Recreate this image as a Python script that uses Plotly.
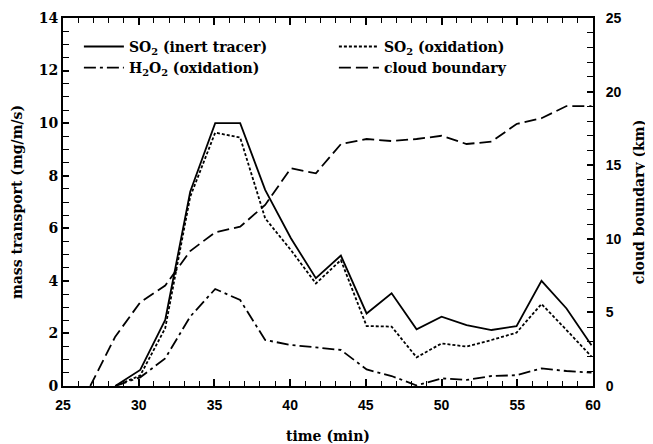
import plotly.graph_objects as go

# time axis (min)
time_cloud = [26.8, 28.45, 30.1, 31.75, 33.4, 35.05, 36.7, 38.35, 40.05, 41.7,
              43.35, 45.05, 46.7, 48.35, 50.0, 51.65, 53.3, 54.95, 56.6, 58.25, 59.9]
time_mass = time_cloud[1:]

so2_inert = [0.0, 0.61, 2.51, 7.39, 10.0, 10.0, 7.46, 5.62, 4.1, 4.96,
             2.76, 3.53, 2.16, 2.64, 2.32, 2.13, 2.28, 4.0, 2.95, 1.55]
so2_oxid = [0.0, 0.4, 2.2, 7.2, 9.64, 9.45, 6.38, 5.17, 3.9, 4.79,
            2.28, 2.26, 1.09, 1.62, 1.5, 1.75, 2.03, 3.12, 2.13, 1.12]
h2o2_oxid = [0.0, 0.33, 1.05, 2.64, 3.69, 3.27, 1.75, 1.56, 1.47, 1.37,
             0.63, 0.38, 0.02, 0.29, 0.23, 0.38, 0.41, 0.67, 0.57, 0.51]
cloud_km = [0.0, 3.35, 5.69, 6.82, 9.17, 10.44, 10.82, 12.3, 14.79, 14.45,
            16.43, 16.78, 16.64, 16.78, 17.0, 16.44, 16.6, 17.8, 18.19, 19.02, 19.02]

x_ticks = [25, 30, 35, 40, 45, 50, 55, 60]
y_ticks = [0, 2, 4, 6, 8, 10, 12, 14]
y2_ticks = [0, 5, 10, 15, 20, 25]

serif = "DejaVu Serif"
sans = "Liberation Sans"
lw = 1.8

fig = go.Figure()
fig.add_trace(go.Scatter(x=time_mass, y=so2_inert, mode="lines",
                         name="SO<sub>2</sub> (inert tracer)",
                         line=dict(color="black", width=lw, dash="solid")))
fig.add_trace(go.Scatter(x=time_mass, y=so2_oxid, mode="lines",
                         name="SO<sub>2</sub> (oxidation)",
                         line=dict(color="black", width=lw, dash="3px,2px")))
fig.add_trace(go.Scatter(x=time_mass, y=h2o2_oxid, mode="lines",
                         name="H<sub>2</sub>O<sub>2</sub> (oxidation)",
                         line=dict(color="black", width=lw, dash="12px,4px,3px,4px")))
fig.add_trace(go.Scatter(x=time_cloud, y=cloud_km, mode="lines", yaxis="y2",
                         name="cloud boundary",
                         line=dict(color="black", width=lw, dash="12px,5px")))

fig.update_layout(
    width=645, height=436,
    margin=dict(l=55, r=60, t=10, b=58),
    paper_bgcolor="white", plot_bgcolor="white",
    font=dict(family=serif, color="black", size=13),
    showlegend=True,
    legend=dict(orientation="h", x=0.03, y=0.965, xanchor="left", yanchor="top",
                entrywidth=200, entrywidthmode="pixels",
                font=dict(family=serif, size=14, color="black", weight="bold"),
                bgcolor="rgba(0,0,0,0)", tracegroupgap=0, itemwidth=40),
    xaxis=dict(range=[25, 60], tickvals=x_ticks, ticktext=[str(v) for v in x_ticks],
               ticks="inside", ticklen=7, tickwidth=1.5, tickcolor="black",
               minor=dict(dtick=1, ticks="inside", ticklen=5, tickwidth=1.2, tickcolor="black"),
               showline=True, linewidth=2, linecolor="black", mirror="ticks",
               showgrid=False, zeroline=False, automargin=False, ticklabelstandoff=5,
               tickfont=dict(family=sans, size=14, weight="bold"),
               title=dict(text="time (min)", font=dict(family=serif, size=14, weight="bold"),
                          standoff=22)),
    yaxis=dict(range=[0, 14], tickvals=y_ticks, ticktext=[str(v) for v in y_ticks],
               ticks="inside", ticklen=6, tickwidth=1.5, tickcolor="black",
               minor=dict(dtick=0.5, ticks="inside", ticklen=6, tickwidth=1.2, tickcolor="black"),
               showline=True, linewidth=2, linecolor="black", mirror=False,
               showgrid=False, zeroline=False, automargin=False,
               tickfont=dict(family=serif, size=14, weight="bold"),
               title=dict(text="mass transport (mg/m/s)",
                          font=dict(family=serif, size=14, weight="bold"), standoff=13)),
    yaxis2=dict(range=[0, 25], tickvals=y2_ticks, ticktext=[str(v) for v in y2_ticks],
                overlaying="y", side="right",
                ticks="inside", ticklen=6, tickwidth=1.5, tickcolor="black",
                minor=dict(dtick=1, ticks="inside", ticklen=6, tickwidth=1.2, tickcolor="black"),
                showline=True, linewidth=2, linecolor="black",
                showgrid=False, zeroline=False, automargin=False, ticklabelstandoff=8,
                tickfont=dict(family=sans, size=14, weight="bold"),
                title=dict(text="cloud boundary (km)",
                           font=dict(family=serif, size=14, weight="bold"), standoff=14)),
)

fig.write_html("out.html")
